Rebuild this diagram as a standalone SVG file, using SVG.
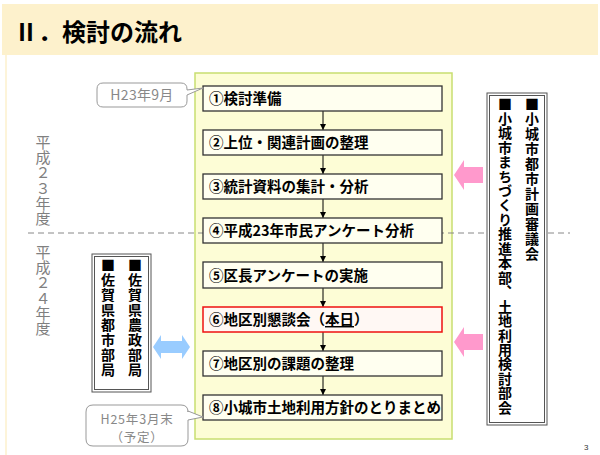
<svg xmlns="http://www.w3.org/2000/svg" width="600" height="455" viewBox="0 0 600 455">
<defs>
<style>
.jp{font-family:"Noto Sans CJK JP","Noto Sans",sans-serif}
.step{fill:#fffff0;stroke:#333;stroke-width:1.3}
.st{font-size:14.5px;font-weight:bold;fill:#000}
.vt{writing-mode:vertical-rl;font-size:14px;font-weight:bold;fill:#000;letter-spacing:1px}
.yr{writing-mode:vertical-rl;font-size:15px;fill:#808080;letter-spacing:0.2px}
.call{fill:#fff;stroke:#999;stroke-width:1}
.ct{font-size:12.5px;fill:#888;text-anchor:middle;letter-spacing:0.8px}
.frame{fill:#fff;stroke:#555;stroke-width:1}
.conn{stroke:#000;stroke-width:1;fill:none;marker-end:url(#ah)}
</style>
<marker id="ah" viewBox="0 0 6 6" refX="6" refY="3" markerWidth="6" markerHeight="6" markerUnits="userSpaceOnUse" orient="auto">
<path d="M0,0 L6,3 L0,6 Z" fill="#000"/>
</marker>
</defs>
<rect x="0" y="0" width="600" height="455" fill="#fff"/>
<g id="title">
<rect x="2" y="4" width="596" height="51" fill="#fdf1cc"/>
<line x1="6" y1="55" x2="6" y2="455" stroke="#fdf1cc" stroke-width="1.5"/>
<text x="14" y="41" class="jp" font-size="24" font-weight="bold" fill="#000">Ⅱ．検討の流れ</text>
</g>
<g id="panel">
<rect x="195" y="73" width="257" height="366" fill="#fdfdd6" stroke="#c8de70" stroke-width="1.5"/>
</g>
<g id="divider">
<line x1="28" y1="233" x2="570" y2="233" stroke="#888" stroke-width="1" stroke-dasharray="6,4"/>
</g>
<g id="years" class="jp">
<text x="43" y="135" class="yr">平成２３年度</text>
<text x="43" y="245" class="yr">平成２４年度</text>
</g>
<g id="connectors">
<line x1="323" y1="111" x2="323" y2="130" class="conn"/>
<line x1="323" y1="155" x2="323" y2="174" class="conn"/>
<line x1="323" y1="199" x2="323" y2="218" class="conn"/>
<line x1="323" y1="243" x2="323" y2="262" class="conn"/>
<line x1="323" y1="288" x2="323" y2="307" class="conn"/>
<line x1="323" y1="332" x2="323" y2="351" class="conn"/>
<line x1="323" y1="376" x2="323" y2="395" class="conn"/>
</g>
<g id="step1" class="jp"><rect x="203" y="86" width="239" height="25" class="step"/><text x="209" y="104" class="st">①検討準備</text></g>
<g id="step2" class="jp"><rect x="203" y="130" width="239" height="25" class="step"/><text x="209" y="148" class="st">②上位・関連計画の整理</text></g>
<g id="step3" class="jp"><rect x="203" y="174" width="239" height="25" class="step"/><text x="209" y="192" class="st">③統計資料の集計・分析</text></g>
<g id="step4" class="jp"><rect x="203" y="218" width="239" height="25" class="step"/><text x="209" y="236" class="st">④平成23年市民アンケート分析</text></g>
<g id="step5" class="jp"><rect x="203" y="262" width="239" height="26" class="step"/><text x="209" y="281" class="st">⑤区長アンケートの実施</text></g>
<g id="step6" class="jp"><rect x="203" y="307" width="239" height="25" fill="#fff8f4" stroke="#ee1111" stroke-width="1.5"/><text x="209" y="325" class="st">⑥地区別懇談会（<tspan text-decoration="underline">本日</tspan>）</text></g>
<g id="step7" class="jp"><rect x="203" y="351" width="239" height="25" class="step"/><text x="209" y="369" class="st">⑦地区別の課題の整理</text></g>
<g id="step8" class="jp"><rect x="203" y="395" width="239" height="25" class="step"/><text x="209" y="413" class="st">⑧小城市土地利用方針のとりまとめ</text></g>
<g id="callout1" class="jp">
<path d="M103,83 H181 Q187,83 187,89 V90 L203,88 L187,95 V101 Q187,107 181,107 H103 Q97,107 97,101 V89 Q97,83 103,83 Z" class="call"/>
<text x="142" y="100" class="ct" style="font-size:14px;letter-spacing:0.3px">H23年9月</text>
</g>
<g id="callout2" class="jp">
<path d="M93,405 H181 Q188,405 188,412 V411 L203,417 L188,420 V439 Q188,446 181,446 H93 Q86,446 86,439 V412 Q86,405 93,405 Z" class="call"/>
<text x="137" y="424" class="ct">H25年3月末</text>
<text x="137" y="442" class="ct">（予定）</text>
</g>
<g id="saga" class="jp">
<rect x="92" y="254" width="59" height="138" class="frame"/>
<rect x="94.5" y="256.5" width="54" height="133" class="frame"/>
<text x="135" y="258" class="vt">■佐賀県農政部局</text>
<text x="108" y="258" class="vt">■佐賀県都市部局</text>
</g>
<g id="ogi" class="jp">
<rect x="487" y="93" width="60" height="332" class="frame"/>
<rect x="489.5" y="95.5" width="55" height="327" class="frame"/>
<text x="532" y="97" class="vt">■小城市都市計画審議会</text>
<text x="505" y="97" class="vt" style="letter-spacing:0.45px">■小城市まちづくり推進本部、土地利用検討部会</text>
</g>
<g id="arrows">
<polygon points="454,175 464,160 464,167 483,167 483,183 464,183 464,190" fill="#ff99cc"/>
<polygon points="454,342 464,327 464,334 483,334 483,350 464,350 464,357" fill="#ff99cc"/>
<polygon points="153,347 161,335 161,341 182,341 182,335 190,347 182,359 182,353 161,353 161,359" fill="#99ccff"/>
</g>
<text x="584" y="450" font-family="Liberation Sans,sans-serif" font-size="8" fill="#333">3</text>
</svg>
